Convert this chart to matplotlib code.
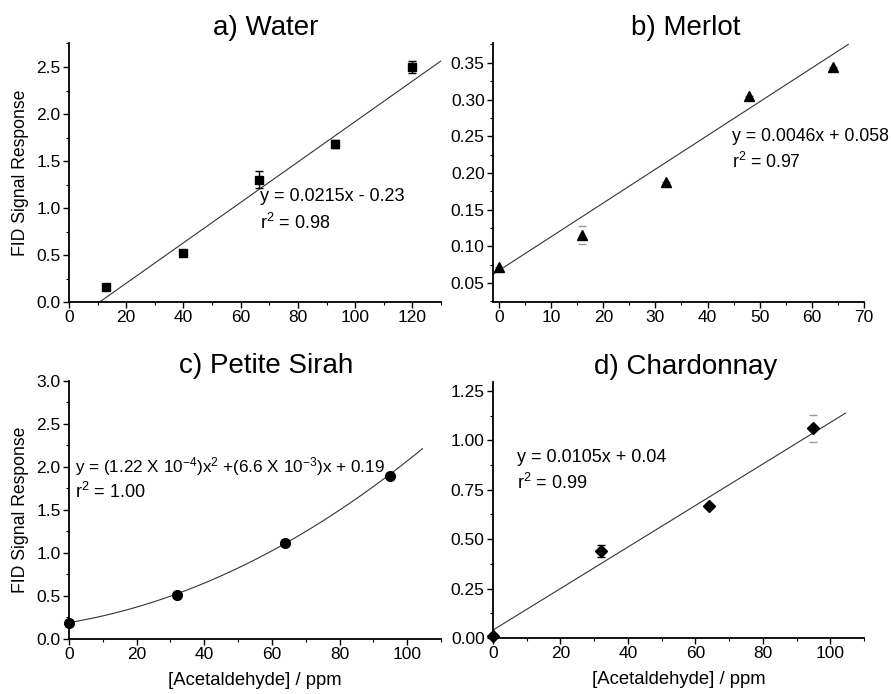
import numpy as np
import matplotlib
matplotlib.use("Agg")
import matplotlib.pyplot as plt
from matplotlib.ticker import MultipleLocator, FormatStrFormatter

plt.rcParams["font.family"] = ["Liberation Sans", "DejaVu Sans"]
plt.rcParams["mathtext.fontset"] = "custom"
plt.rcParams["mathtext.rm"] = "Liberation Sans"
plt.rcParams["mathtext.it"] = "Liberation Sans"

# a) Water
water_x = [13, 40, 66.5, 93, 120]
water_y = [0.16, 0.52, 1.30, 1.68, 2.50]
water_err = [0.0, 0.0, 0.09, 0.04, 0.06]
water_fit = (0.0215, -0.23)

# b) Merlot
merlot_x = [0, 16, 32, 48, 64]
merlot_y = [0.072, 0.115, 0.188, 0.305, 0.345]
merlot_err = [0.0, 0.012, 0.0, 0.0, 0.0]
merlot_fit = (0.0046, 0.067)

# c) Petite Sirah
sirah_x = [0, 32, 64, 95]
sirah_y = [0.19, 0.51, 1.12, 1.90]
sirah_fit = (1.22e-4, 6.6e-3, 0.19)

# d) Chardonnay
chard_x = [0, 32, 64, 95]
chard_y = [0.01, 0.44, 0.67, 1.06]
chard_err = [0.0, 0.03, 0.0, 0.07]
chard_fit = (0.0105, 0.04)

TICK_FS = 12.5
TXT_FS = 13
TITLE_FS = 20


def style_axes(ax, xlim, ylim, xmaj, ymaj, yfmt):
    for s in ("top", "right"):
        ax.spines[s].set_visible(False)
    for s in ("left", "bottom"):
        ax.spines[s].set_linewidth(1.3)
    ax.set_xlim(*xlim)
    ax.set_ylim(*ylim)
    ax.xaxis.set_major_locator(MultipleLocator(xmaj))
    ax.xaxis.set_minor_locator(MultipleLocator(xmaj / 2))
    ax.yaxis.set_major_locator(MultipleLocator(ymaj))
    ax.yaxis.set_minor_locator(MultipleLocator(ymaj / 2))
    ax.yaxis.set_major_formatter(FormatStrFormatter(yfmt))
    ax.tick_params(which="major", direction="out", length=4, width=1, labelsize=TICK_FS, pad=2)
    ax.tick_params(which="minor", direction="out", length=2, width=0.8)


fig = plt.figure(figsize=(8.91, 6.94), dpi=100)
ax_a = fig.add_axes([0.0774, 0.5648, 0.4176, 0.3732])
ax_b = fig.add_axes([0.5533, 0.5648, 0.4164, 0.3732])
ax_c = fig.add_axes([0.0774, 0.0793, 0.4176, 0.3718])
ax_d = fig.add_axes([0.5533, 0.0807, 0.4164, 0.3689])

# a) Water
ax = ax_a
style_axes(ax, (0, 130), (0, 2.755), 20, 0.5, "%.1f")
xs = np.linspace(-water_fit[1] / water_fit[0], 130, 50)
ax.plot(xs, water_fit[0] * xs + water_fit[1], color="#333333", lw=0.8)
ax.errorbar(water_x, water_y, yerr=water_err, fmt="s", color="black", ms=6,
            capsize=3, elinewidth=1, capthick=1)
ax.text(66.7, 1.12, "y = 0.0215x - 0.23", fontsize=TXT_FS, va="center")
ax.text(66.7, 0.84, "r$^2$ = 0.98", fontsize=TXT_FS, va="center")
ax.set_title("a) Water", fontsize=TITLE_FS, x=0.53, pad=6)
ax.set_ylabel("FID Signal Response", fontsize=12.7, labelpad=5)

# b) Merlot
ax = ax_b
style_axes(ax, (-1.15, 70), (0.024, 0.377), 10, 0.05, "%.2f")
xs = np.linspace(-1.15, 67, 50)
ax.plot(xs, merlot_fit[0] * xs + merlot_fit[1], color="#333333", lw=0.8)
ax.errorbar(merlot_x, merlot_y, yerr=merlot_err, fmt="^", color="black", ms=7,
            ecolor="#999999", capsize=3, elinewidth=0, capthick=1)
ax.text(44.7, 0.249, "y = 0.0046x + 0.058", fontsize=12.7, va="center")
ax.text(44.7, 0.215, "r$^2$ = 0.97", fontsize=12.7, va="center")
ax.set_title("b) Merlot", fontsize=TITLE_FS, x=0.52, pad=6)

# c) Petite Sirah
ax = ax_c
style_axes(ax, (0, 110), (0, 3.0), 20, 0.5, "%.1f")
xs = np.linspace(0, 104.5, 80)
ax.plot(xs, sirah_fit[0] * xs ** 2 + sirah_fit[1] * xs + sirah_fit[2], color="#333333", lw=0.8)
ax.plot(sirah_x, sirah_y, "o", color="black", ms=7, clip_on=False)
ax.text(1.8, 2.0, "y = (1.22 X 10$^{-4}$)x$^2$ +(6.6 X 10$^{-3}$)x + 0.19",
        fontsize=12.3, va="center")
ax.text(1.8, 1.71, "r$^2$ = 1.00", fontsize=TXT_FS, va="center")
ax.set_title("c) Petite Sirah", fontsize=TITLE_FS, x=0.53, pad=6)
ax.set_ylabel("FID Signal Response", fontsize=12.7, labelpad=5)
ax.set_xlabel("[Acetaldehyde] / ppm", fontsize=13.3, labelpad=7)

# d) Chardonnay
ax = ax_d
style_axes(ax, (0, 110), (0, 1.295), 20, 0.25, "%.2f")
xs = np.linspace(0, 104.5, 50)
ax.plot(xs, chard_fit[0] * xs + chard_fit[1], color="#333333", lw=0.8)
ax.errorbar(chard_x[:3], chard_y[:3], yerr=chard_err[:3], fmt="D", color="black", ms=6,
            capsize=3, elinewidth=1, capthick=1, clip_on=False)
ax.errorbar(chard_x[3:], chard_y[3:], yerr=chard_err[3:], fmt="D", color="black", ms=6,
            ecolor="#999999", capsize=3, elinewidth=0, capthick=1)
ax.text(7.1, 0.911, "y = 0.0105x + 0.04", fontsize=TXT_FS, va="center")
ax.text(7.1, 0.784, "r$^2$ = 0.99", fontsize=TXT_FS, va="center")
ax.set_title("d) Chardonnay", fontsize=TITLE_FS, x=0.52, pad=6)
ax.set_xlabel("[Acetaldehyde] / ppm", fontsize=13.3, labelpad=7)

fig.savefig("out.png", dpi=100)
